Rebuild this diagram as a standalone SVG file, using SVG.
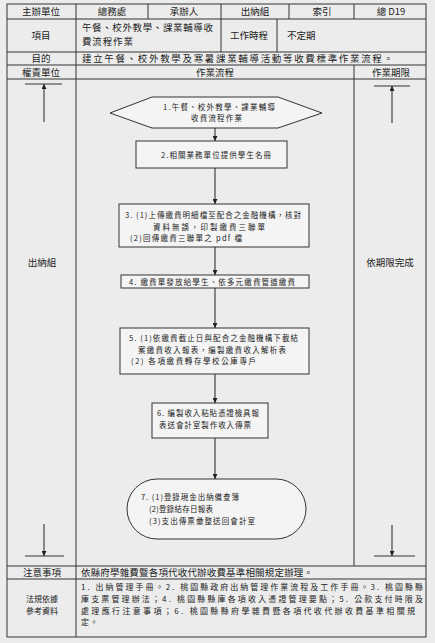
<svg xmlns="http://www.w3.org/2000/svg" width="435" height="643" viewBox="0 0 435 643">
<defs>
<style>
.ln{stroke:#333;stroke-width:1;fill:none}
.bx{stroke:#333;stroke-width:1;fill:#f4f4f4}
.t{font-family:"Noto Sans CJK TC","Noto Sans CJK SC",sans-serif;font-size:9.5px;fill:#222}
.l{font-family:"Noto Sans CJK TC","Noto Sans CJK SC",sans-serif;font-size:8px;fill:#222}
.s{font-family:"Noto Sans CJK TC","Noto Sans CJK SC",sans-serif;font-size:7.5px;fill:#222}
.c{text-anchor:middle}
.cn{stroke:#222;stroke-width:1;fill:none;marker-end:url(#ah)}
</style>
<marker id="ah" viewBox="0 0 6 6" refX="6" refY="3" markerWidth="5" markerHeight="5" markerUnits="userSpaceOnUse" orient="auto">
<path d="M0,0 L6,3 L0,6 Z" fill="#222"/>
</marker>
</defs>
<rect x="0" y="0" width="435" height="643" fill="#ececec"/>
<g id="table">
<rect x="7" y="4" width="419" height="633" class="ln" stroke-width="1.2"/>
<line x1="7" y1="19" x2="426" y2="19" class="ln"/>
<line x1="7" y1="52" x2="426" y2="52" class="ln"/>
<line x1="7" y1="65" x2="426" y2="65" class="ln"/>
<line x1="7" y1="79" x2="426" y2="79" class="ln"/>
<line x1="7" y1="566" x2="426" y2="566" class="ln"/>
<line x1="7" y1="579" x2="426" y2="579" class="ln"/>
<line x1="76" y1="4" x2="76" y2="637" class="ln"/>
<line x1="148" y1="4" x2="148" y2="19" class="ln"/>
<line x1="221" y1="4" x2="221" y2="52" class="ln"/>
<line x1="289" y1="4" x2="289" y2="19" class="ln"/>
<line x1="354" y1="4" x2="354" y2="19" class="ln"/>
<line x1="277" y1="19" x2="277" y2="52" class="ln"/>
<line x1="354" y1="65" x2="354" y2="566" class="ln"/>
<text class="t c" x="41" y="15">主辦單位</text>
<text class="t c" x="112" y="15">總務處</text>
<text class="t c" x="184" y="15">承辦人</text>
<text class="t c" x="255" y="15">出納組</text>
<text class="t c" x="322" y="15">索引</text>
<text class="t c" x="391" y="15">總 D19</text>
<text class="t c" x="41" y="39">項目</text>
<text class="t" x="82" y="30.5" textLength="131">午餐、校外教學、課業輔導收</text>
<text class="t" x="82" y="45" textLength="51">費流程作業</text>
<text class="t c" x="249" y="39">工作時程</text>
<text class="t" x="287" y="39">不定期</text>
<text class="t c" x="41" y="62">目的</text>
<text class="t" x="82" y="62" textLength="311">建立午餐、校外教學及寒暑課業輔導活動等收費標準作業流程。</text>
<text class="t c" x="41" y="75.5">權責單位</text>
<text class="t c" x="215" y="75.5">作業流程</text>
<text class="t c" x="391" y="75.5">作業期限</text>
<text class="t c" x="42" y="265.5">出納組</text>
<text class="t c" x="390" y="265.5">依期限完成</text>
<text class="t c" x="42" y="576">注意事項</text>
<text class="t" x="81" y="576" textLength="232">依縣府學雜費暨各項代收代辦收費基準相關規定辦理。</text>
<text class="l c" x="42" y="602">法規依據</text>
<text class="l c" x="42" y="613.6">參考資料</text>
<text class="l" x="81" y="590.4" textLength="342">1. 出納管理手冊。2. 桃園縣政府出納管理作業流程及工作手冊。3. 桃園縣縣</text>
<text class="l" x="81" y="602" textLength="342">庫支票管理辦法；4. 桃園縣縣庫各項收入憑證管理要點；5. 公款支付時限及</text>
<text class="l" x="81" y="613.6" textLength="334">處理應行注意事項；6. 桃園縣縣府學雜費暨各項代收代辦收費基準相關規</text>
<text class="l" x="81" y="625.2" textLength="17">定。</text>
</g>
<g id="n1">
<polygon points="110,113 152,97 278,97 322,113 278,128 152,128" class="bx"/>
<text class="s" x="163" y="110" textLength="112">1.午餐、校外教學、課業輔導</text>
<text class="s" x="191" y="121" textLength="51">收費流程作業</text>
</g>
<g id="n2">
<rect x="136" y="141" width="151" height="27" class="bx"/>
<text class="s" x="161" y="157.5" textLength="110">2.相關業務單位提供學生名冊</text>
</g>
<g id="n3">
<rect x="119" y="204" width="190" height="43" class="bx"/>
<text class="s" x="125" y="218" textLength="176">3. (1)上傳繳費明細檔至配合之金融機構，核對</text>
<text class="s" x="153" y="229.5" textLength="112">資料無誤，印製繳費三聯單</text>
<text class="s" x="130" y="240.5" textLength="112">(2)回傳繳費三聯單之 pdf 檔</text>
</g>
<g id="n4">
<rect x="121" y="275" width="188" height="13" class="bx"/>
<text class="s" x="129" y="284.5" textLength="166">4. 繳費單發放給學生、依多元繳費管道繳費</text>
</g>
<g id="n5">
<rect x="120" y="328" width="189" height="46" class="bx"/>
<text class="s" x="129" y="341" textLength="169">5. (1)依繳費截止日與配合之金融機構下載結</text>
<text class="s" x="138" y="352.5" textLength="148">案繳費收入報表，編製繳費收入解析表</text>
<text class="s" x="131" y="364" textLength="125">(2) 各項繳費轉存學校公庫專戶</text>
</g>
<g id="n6">
<rect x="152" y="403" width="116" height="35" class="bx"/>
<text class="s" x="157" y="416" textLength="102">6. 編製收入粘貼憑證檢具報</text>
<text class="s" x="159" y="427.5" textLength="92">表送會計室製作收入傳票</text>
</g>
<g id="n7">
<rect x="127" y="479" width="179" height="60" rx="30" ry="30" class="bx"/>
<text class="s" x="141" y="500" textLength="98">7. (1)登錄現金出納備查簿</text>
<text class="s" x="149" y="512" textLength="64">(2)登錄結存日報表</text>
<text class="s" x="149" y="524" textLength="106">(3)支出傳票彙整送回會計室</text>
</g>
<g id="connectors">
<line x1="215" y1="128" x2="215" y2="141" class="cn"/>
<line x1="215" y1="168" x2="215" y2="204" class="cn"/>
<line x1="215" y1="247" x2="215" y2="275" class="cn"/>
<line x1="215" y1="288" x2="215" y2="328" class="cn"/>
<line x1="215" y1="374" x2="215" y2="403" class="cn"/>
<line x1="215" y1="438" x2="215" y2="479" class="cn"/>
<line x1="44" y1="122" x2="44" y2="84" class="cn"/>
<line x1="25" y1="84" x2="62" y2="84" class="ln"/>
<line x1="44" y1="524" x2="44" y2="556" class="cn"/>
<line x1="25" y1="556" x2="64" y2="556" class="ln"/>
<line x1="392" y1="123" x2="392" y2="86" class="cn"/>
<line x1="374" y1="86" x2="410" y2="86" class="ln"/>
<line x1="392" y1="525" x2="392" y2="556" class="cn"/>
<line x1="374" y1="556" x2="415" y2="556" class="ln"/>
</g>
</svg>
